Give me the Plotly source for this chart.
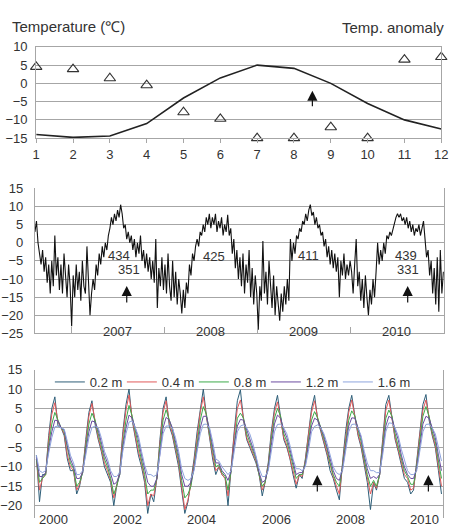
import plotly.graph_objects as go
import pandas as pd

# ---------------- data ----------------
# Panel 1: monthly mean air temperature (line) and temperature anomaly (triangles)
months = list(range(1, 13))
mean_temp = [-14, -14.8, -14.4, -11, -4, 1.5, 5, 4.1, 0, -5.5, -10, -12.5]
anomaly = [4.5, 3.9, 1.4, -0.5, -7.9, -9.7, -15, -15, -12, -15, 6.5, 7.2]

# Panel 2: air temperature, 6-day samples from 2006-08-11
air_start = "2006-08-11"
air_temp = [
    # 2006
    3, 6, 0, -3, -6, -2, -8, -4, -11, -6, -14, -5, -12, 2, -9, -4, -13, -6, -14, -3, -10, -15, -6, -12,
    # 2007
    -23, -9, -15, -6, -13, -8, -16, -5, -12, -14,
    -1, -12, -20, -14, -10, -13, -6, -9, -3, -6,
    -1, -4, 0, -2, 2, 4, 7, 5, 8, 6,
    9, 7, 10.5, 8, 4, 5, 1, 3, 0, 2,
    -2, 1, -4, 0, -3, 2, -5, -2, -7, -3,
    -8, -4, -10, -5, -11, 1, -18, -7, -12, -4, -13,
    # 2008
    -6, -14, -3, -12, -16, -5, -15, -8, -17, -10,
    -14, -19.5, -13, -18, -11, -14, -6, -9, -3, -5,
    -1, 1, -1, 3, 2, 5, 3, 7, 5, 8,
    4, 7, 5, 8, 3, 6, 4, 7, 2, 5,
    3, 7.7, 2, 4, -3, 1, -7, -2, -10, -4,
    -12, -3, -14, -6, -11, -2, -15, -7, -17, -9, -14,
    # 2009
    -24, -12, -16, 0.5, -14, -8, -17, -5, -13, -18, -9, -20, -12,
    -16, -21.5, -14, -19, -12, -17, -10, -16,
    1, -5, 0, -3, 2, 1, 4, 3, 6, 5,
    8, 6, 9, 10.5, 7.5, 8.5, 5, 7, 4, 5,
    2, 3, -1, 1, -4, -1, -6, -2, -7, -3,
    -8, -4, -15, -5, -9, -3, -10, -6, -9, -5,
    # 2010
    -8, -14, -6, 1, -12, -8, -16, -10, -18, -9,
    -15, -20, -13, -17, -10, -15, -8, 0, -6, -2,
    -5, 0, -3, 2, 1, 3, 2, 4, 5, 7,
    8, 7, 8, 6, 7, 5, 7, 4, 6, 3,
    5, 2, 4, 3, 5, 2, 4, 6, 1, -4,
    -2, -9, -5, -14, -7, -17, -4, -19, -2, -14, -8,
]
p2_years = ["2007", "2008", "2009", "2010"]
p2_numbers = ["434", "351", "425", "411", "439", "331"]
p2_number_x = ["2007-07-05", "2007-08-13", "2008-07-15", "2009-07-19", "2010-08-06", "2010-08-13"]
p2_number_y = [-3.6, -7.3, -3.85, -3.6, -3.6, -7.3]
p2_arrow_x = ["2007-08-06", "2010-08-12"]

# Panel 3: soil temperature at depths, monthly 2000-2010
soil_years = list(range(2000, 2011))
depth_names = ["0.2 m", "0.4 m", "0.8 m", "1.2 m", "1.6 m"]
soil_02 = [
    -7, -19, -12, -12, -2, 5, 8, 0.5, 0, -2, -8, -11,
    -11, -17, -15, -11, -3, 4, 7, 1, -3, -6, -10, -12,
    -14, -20, -15, -11, -1, 6, 10, 2, -3, -7, -10, -14,
    -22, -17, -19, -13, -3, 5, 8, 0.5, -2, -6, -10, -16,
    -22, -19, -14, -8, -1, 5, 10, 3, -3, -8, -12, -10,
    -12, -13, -20, -10, -1, 7, 9.8, 2, -3, -5, -7, -9,
    -12, -17.5, -14, -9, -1, 5, 8.4, 2, -3, -5, -8, -12,
    -15.5, -12, -13, -8, -1, 5, 8.4, 2, -1, -4, -7, -11,
    -13, -16, -18.5, -9, -1, 5, 8.4, 3, -2, -5, -10, -14,
    -21, -14, -16, -12, -3, 6, 8.4, 2, -3, -6, -10, -13,
    -14, -17, -16, -9, -1, 6, 8.6, 2, -2, -5, -11, -17,
]
soil_04 = [
    -8, -16, -13, -12, -3, 3.5, 6.5, 1.5, 0, -1.5, -7, -10,
    -11, -16, -14.5, -11, -4, 3, 6.3, 1.5, -2.5, -5.5, -9, -11,
    -13.5, -18, -15, -11.5, -2, 4.5, 8.5, 2.5, -2, -6, -9, -13,
    -20, -17, -17.5, -13, -4, 4, 7, 1.5, -1.5, -5.5, -9, -15,
    -21, -18.5, -14.5, -9, -2, 4, 8, 3, -2.5, -7, -11, -10,
    -12, -13, -17.5, -10.5, -2, 5, 7.2, 2.5, -2.5, -4.5, -6.5, -8.5,
    -12, -16, -14, -9.5, -2, 4, 6.7, 2.5, -2.5, -4.5, -7.5, -11,
    -14.5, -12, -12.5, -8.5, -2, 4, 7, 2.5, -0.5, -3.5, -6.5, -10,
    -12.5, -15, -17, -9.5, -2, 4, 7.2, 3, -1.5, -4.5, -9, -13,
    -17, -14, -15.5, -12, -4, 4.5, 7.2, 2.5, -2.5, -5.5, -9, -12,
    -13, -16, -15.5, -9.5, -2, 4.5, 7.2, 2.5, -1.5, -4.5, -10, -15,
]
soil_08 = [
    -8, -14, -13, -12, -4.5, 1, 4, 2, 0, -1, -5.5, -9,
    -10.5, -15, -14, -11.5, -5, 1, 3.8, 2, -1.5, -4.5, -8, -10,
    -13, -17, -15, -12, -4, 2, 5.8, 3, -1, -4.5, -8, -12,
    -17, -16, -16, -13, -5, 2, 4.7, 2, -0.5, -4.5, -8, -13.5,
    -18, -17, -15, -10, -3.5, 2, 5.5, 3.5, -1.5, -5.5, -10, -9.5,
    -11.5, -12.5, -16, -11, -3.5, 2.5, 3.8, 2.5, -1.5, -3.5, -5.5, -8,
    -12, -15, -14, -10, -3, 2.5, 5, 3, -1.5, -3.5, -6.5, -10,
    -13, -12, -12, -9, -3.5, 2, 4.2, 2.5, 0, -2.5, -5.5, -9,
    -12, -14, -15, -10, -3.5, 2, 4.4, 3, -0.5, -3.5, -8, -12,
    -15, -13.5, -15, -12, -5, 2.5, 4.6, 3, -1.5, -4.5, -8, -11,
    -12.5, -14.5, -14.5, -10, -3.5, 3, 5.5, 3, -1, -3.5, -8.5, -13,
]
soil_12 = [
    -7.5, -12.5, -12.5, -11.5, -5.5, -1, 2, 1.8, 0, -0.5, -4.5, -8,
    -10, -13, -13, -11.5, -6, -1, 1.8, 1.5, -0.5, -3.5, -7, -9,
    -12, -14.5, -14, -12, -5, 0, 3.3, 2.5, 0, -3, -7, -10.5,
    -14, -15, -15, -13, -6, 0, 2.7, 2, 0, -3.5, -7, -12,
    -15, -15, -14, -10.5, -5, 0, 3, 3, -0.5, -4.5, -9, -9,
    -11, -12, -13.5, -11, -4.5, 0.5, 2.2, 2, -0.5, -2.5, -5, -7.5,
    -11.5, -14, -13.5, -10.5, -4.5, 1, 3.3, 2.5, -0.5, -2.5, -5.5, -9,
    -12, -11.5, -11.5, -9.5, -5, 0.5, 2.5, 2, 0, -2, -5, -8,
    -11, -13, -13.5, -10.5, -5, 0.5, 2.6, 2.5, 0, -2.5, -7, -10.5,
    -13, -12.5, -13, -12, -6, 0.5, 3, 2.5, -0.5, -3, -7, -10,
    -12, -13, -13, -10.5, -5, 1, 3, 2.5, 0, -2.5, -7, -11,
]
soil_16 = [
    -7, -11, -11.5, -11, -6.5, -2.5, 0.3, 0.5, 0, -0.3, -3.5, -7,
    -9, -12, -12, -11, -7, -2.5, 0.1, 0.5, 0, -2.5, -6, -8,
    -11, -12.5, -12.5, -11.5, -6, -1.5, 1.5, 1.8, 0, -2, -6, -9.5,
    -12, -12, -12.5, -12, -7, -1.5, 0.5, 0.5, 0, -2.5, -6, -10.5,
    -13, -13.5, -13, -11, -6, -1.5, 0.9, 1, 0, -3.5, -8, -8.5,
    -10, -11, -12, -11, -6, -1, 0.5, 0.8, 0, -1.5, -4, -7,
    -10.5, -12.5, -12.5, -11, -5.5, -1, 0.9, 1, 0, -1.5, -4.5, -8,
    -10.5, -10.5, -11, -10, -6, -1, 0.4, 0.8, 0, -1.5, -4, -7,
    -10, -11.5, -12, -11, -6, -1, 0.9, 1, 0, -2, -6, -9,
    -11, -11, -11.5, -11.5, -7, -1, 1.3, 1.2, 0, -2, -5.5, -8.5,
    -11, -12, -12, -11, -6, -1, 0.9, 1, 0, -1.5, -5, -8.5,
]
soil_series = [soil_02, soil_04, soil_08, soil_12, soil_16]
depth_colors = ["#2e5e78", "#e05a5a", "#3daa4a", "#6b4ba0", "#8ea4dd"]
p3_year_labels = ["2000", "2002", "2004", "2006", "2008", "2010"]
p3_arrow_x = ["2007-08-11", "2010-08-08"]

# ---------------- figure ----------------
W, H = 459, 526
FONT = "Liberation Sans, Arial, sans-serif"
TXT = "#333333"
GRID = "#a6a6a6"

air_dates = pd.date_range(air_start, periods=len(air_temp), freq="6D")
soil_dates = pd.to_datetime([f"{y}-{m:02d}-15" for y in soil_years for m in range(1, 13)])

fig = go.Figure()

fig.add_trace(go.Scatter(x=months, y=mean_temp, mode="lines", line=dict(color="#222222", width=1.6),
                         xaxis="x", yaxis="y", showlegend=False))
fig.add_trace(go.Scatter(x=months, y=anomaly, mode="markers",
                         marker=dict(symbol="triangle-up-open", size=10, color="#333333", line=dict(width=1.1)),
                         cliponaxis=False, xaxis="x", yaxis="y", showlegend=False))

fig.add_trace(go.Scatter(x=air_dates, y=air_temp, mode="lines", line=dict(color="#111111", width=1.1),
                         xaxis="x2", yaxis="y2", showlegend=False))

for name, vals, col in zip(depth_names, soil_series, depth_colors):
    fig.add_trace(go.Scatter(x=soil_dates, y=vals, mode="lines", name=name, line=dict(color=col, width=1),
                             xaxis="x3", yaxis="y3"))

def px2fx(p):
    return p / W

def px2fy(p):
    return 1 - p / H

axis_common = dict(zeroline=False, linecolor=GRID, gridcolor=GRID, tickfont=dict(size=13, color=TXT, family=FONT))

fig.update_layout(
    width=W, height=H, autosize=False,
    margin=dict(l=0, r=0, t=0, b=0),
    paper_bgcolor="white", plot_bgcolor="white",
    font=dict(family=FONT, size=13, color=TXT),
    xaxis=dict(domain=[px2fx(33), px2fx(448)], range=[1, 12], tickvals=months, showgrid=False,
               showline=True, mirror=True, ticks="outside", ticklen=4, tickcolor=GRID,
               ticklabelstandoff=0, anchor="y", **axis_common),
    yaxis=dict(domain=[px2fy(135), px2fy(41)], range=[-15, 10], dtick=5, showgrid=True,
               showline=True, mirror=True, ticks="", ticklabelstandoff=5, anchor="x", **axis_common),
    xaxis2=dict(domain=[px2fx(31.7), px2fx(450.7)], range=["2006-08-11", "2011-01-01"], type="date",
                tickvals=["2007-01-01", "2008-01-01", "2009-01-01", "2010-01-01"], showticklabels=False,
                ticks="inside", ticklen=6, tickcolor=GRID, showgrid=False, showline=True, mirror=False,
                anchor="y2", **axis_common),
    yaxis2=dict(domain=[px2fy(336), px2fy(186.7)], range=[-25, 15], dtick=5, showgrid=True,
                showline=True, mirror=True, ticks="", ticklabelstandoff=8, anchor="x2", **axis_common),
    xaxis3=dict(domain=[px2fx(31.7), px2fx(450)], range=["2000-01-01", "2011-01-01"], type="date",
                showticklabels=False, ticks="", showgrid=False, showline=False, anchor="y3", **axis_common),
    yaxis3=dict(domain=[0, px2fy(373.3)], range=[15 - (H - 373.3) / 4, 15], tickvals=list(range(-20, 16, 5)),
                showgrid=True, showline=True, mirror=True, ticks="", ticklabelstandoff=9, anchor="x3",
                **axis_common),
    legend=dict(orientation="h", x=px2fx(47), y=px2fy(386), xanchor="left", yanchor="middle",
                entrywidth=27, entrywidthmode="pixels",
                bgcolor="rgba(0,0,0,0)", font=dict(size=13, color=TXT, family=FONT), traceorder="normal"),
)

ann = []
ann.append(dict(text="Temperature (\u2103)", xref="paper", yref="paper", x=px2fx(6), y=px2fy(20.5),
                xanchor="left", yanchor="middle", showarrow=False, font=dict(size=15, color=TXT)))
ann.append(dict(text="Temp. anomaly", xref="paper", yref="paper", x=px2fx(453), y=px2fy(21.5),
                xanchor="right", yanchor="middle", showarrow=False, font=dict(size=15, color=TXT)))
ARROW = dict(showarrow=True, text="", arrowhead=2, arrowsize=1.7, arrowwidth=1.2, arrowcolor="#111111", ax=0)
# panel 1 arrow
ann.append(dict(x=8.5, y=-2, xref="x", yref="y", ay=17, **ARROW))
# panel 2
for yr in p2_years:
    ann.append(dict(text=yr, x=f"{yr}-07-01", y=-21.8, xref="x2", yref="y2", xanchor="center", yanchor="top",
                    showarrow=False, font=dict(size=13, color=TXT)))
for t, xv, yv in zip(p2_numbers, p2_number_x, p2_number_y):
    ann.append(dict(text=t, x=xv, y=yv, xref="x2", yref="y2", showarrow=False, font=dict(size=13, color=TXT)))
for xv in p2_arrow_x:
    ann.append(dict(x=xv, y=-11.9, xref="x2", yref="y2", ay=18, **ARROW))
# panel 3 (year labels sit at the very bottom edge of the figure)
for yr in p3_year_labels:
    ann.append(dict(text=yr, x=f"{yr}-07-01", y=-21.1, xref="x3", yref="y3", xanchor="center", yanchor="top",
                    showarrow=False, font=dict(size=13, color=TXT)))
for xv in p3_arrow_x:
    ann.append(dict(x=xv, y=-12.1, xref="x3", yref="y3", ay=18, **ARROW))

fig.update_layout(annotations=ann)
fig.write_html("out.html")
